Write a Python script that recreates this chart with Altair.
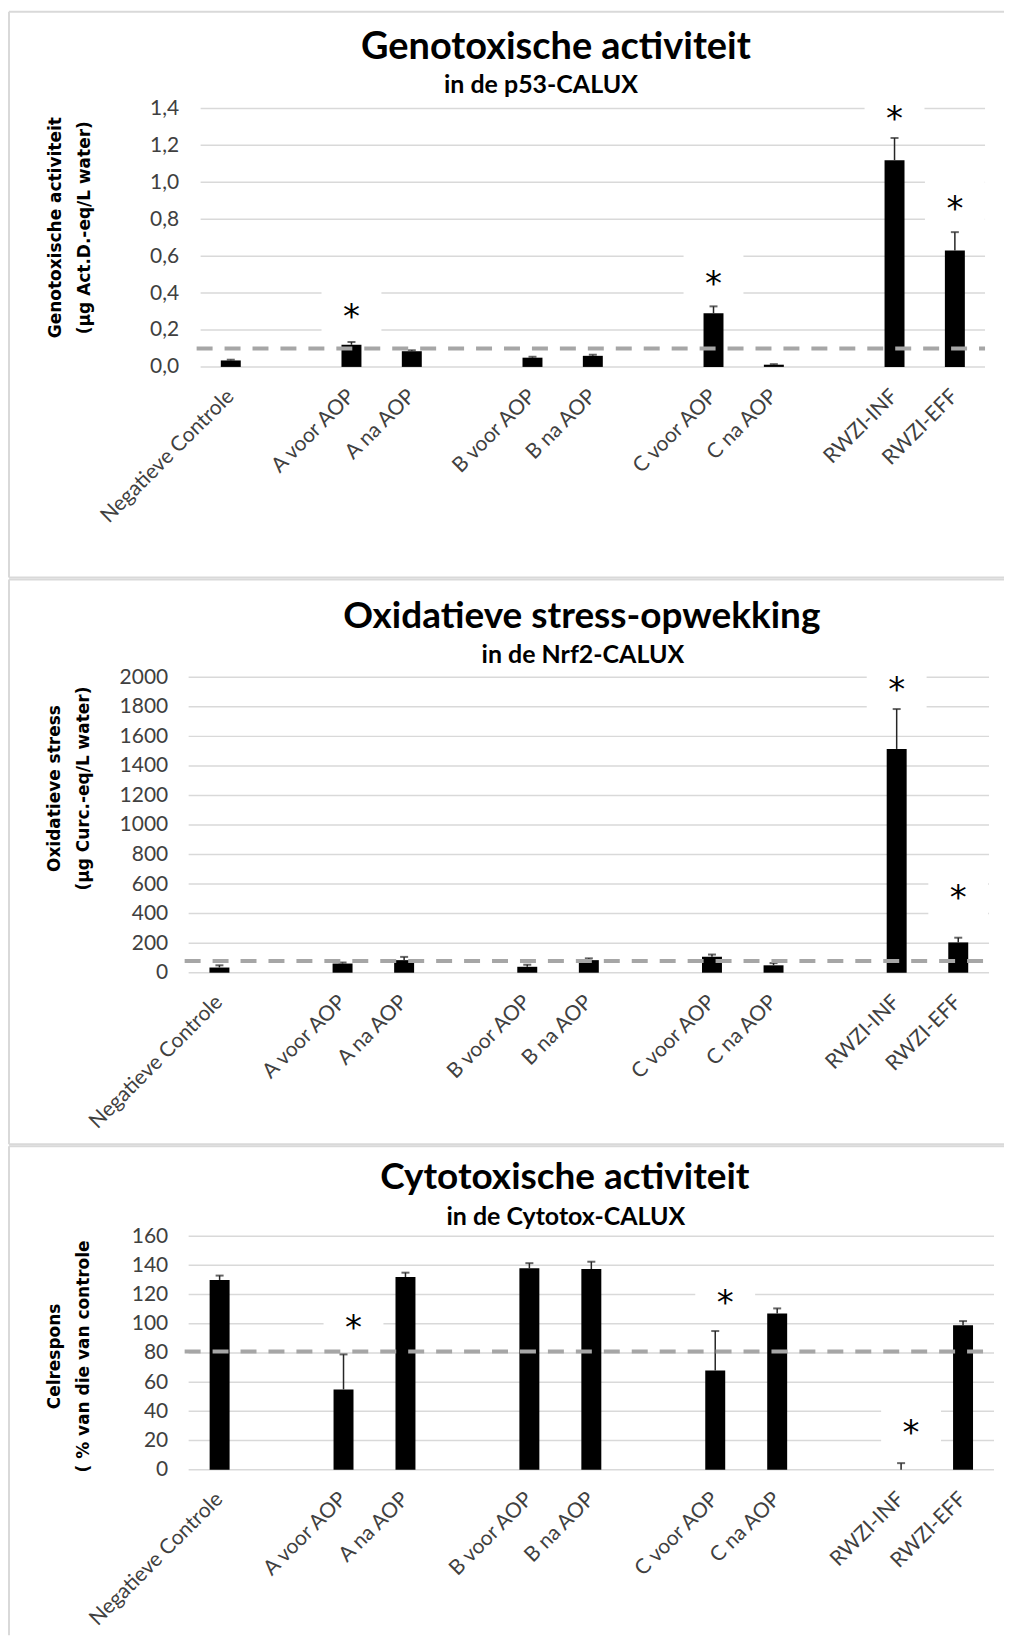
import altair as alt
import pandas as pd

# ---------------- data ----------------
categories = ["Negatieve Controle", "A voor AOP", "A na AOP", "B voor AOP", "B na AOP",
              "C voor AOP", "C na AOP", "RWZI-INF", "RWZI-EFF"]
# x-axis slots: blank slots separate the groups
slots = ["Negatieve Controle", " ", "A voor AOP", "A na AOP", "  ", "B voor AOP", "B na AOP",
         "   ", "C voor AOP", "C na AOP", "    ", "RWZI-INF", "RWZI-EFF"]

geno_values = [0.035, 0.12, 0.085, 0.05, 0.06, 0.29, 0.012, 1.12, 0.63]
geno_errors = [0.004, 0.015, 0.005, 0.005, 0.006, 0.038, 0.003, 0.12, 0.10]
geno_star_cats = ["A voor AOP", "C voor AOP", "RWZI-INF", "RWZI-EFF"]
geno_star_y = [0.30, 0.48, 1.375, 0.89]
geno_threshold = [0.1]
geno_ticks = [0.0, 0.2, 0.4, 0.6, 0.8, 1.0, 1.2, 1.4]

oxi_values = [35, 62, 85, 40, 85, 108, 50, 1515, 205]
oxi_errors = [15, 7, 22, 14, 12, 15, 15, 270, 32]
oxi_star_cats = ["RWZI-INF", "RWZI-EFF"]
oxi_star_y = [1954, 547]
oxi_threshold = [80]
oxi_ticks = [0, 200, 400, 600, 800, 1000, 1200, 1400, 1600, 1800, 2000]

cyto_values = [130, 55, 132, 138, 137.5, 68, 107, 0, 99]
cyto_errors = [3, 24, 3, 3.5, 5, 27, 3.5, 4.5, 2.8]
cyto_star_cats = ["A voor AOP", "C voor AOP", "RWZI-INF"]
cyto_star_y = [101, 118, 29]
cyto_threshold = [81]
cyto_ticks = [0, 20, 40, 60, 80, 100, 120, 140, 160]

FONT = "Lato, Open Sans, sans-serif"
GRID = "#d9d9d9"
FRAME = "#d9d9d9"
ONE = alt.Data(values=[{}])


def frame_lines(left, right, top, bottom, bottom_line):
    layers = []
    segs = [(left, right, top, top), (left, left, top, bottom)]
    if bottom_line:
        segs.append((left, right, bottom, bottom))
    for x1, x2, y1, y2 in segs:
        layers.append(
            alt.Chart(ONE).mark_rule(color=FRAME, strokeWidth=2).encode(
                x=alt.value(x1), x2=alt.value(x2), y=alt.value(y1), y2=alt.value(y2)
            )
        )
    return layers


def text_layer(txt, size, cx, by):
    return alt.Chart(ONE).mark_text(
        text=txt, font=FONT, fontSize=size, fontWeight="bold", color="black",
        align="center", baseline="alphabetic"
    ).encode(x=alt.value(cx), y=alt.value(by))


def panel(title, subtitle, ytitle, values, errors, star_cats, star_y, thr, ticks,
          comma, x0, width, height, frame, bottom_line, title_pos, sub_pos,
          label_pad, ytitle_x, ytitle_y, star_dx, title_size):
    df = pd.DataFrame({
        "cat": categories,
        "value": values,
        "top": [v + e for v, e in zip(values, errors)],
    })
    stars = pd.DataFrame({"cat": star_cats, "y": star_y})
    thr_df = pd.DataFrame({"thr": thr})
    tick_df = pd.DataFrame({"tick": ticks})

    xaxis = alt.Axis(title=None, labelAngle=315, labelAlign="right", labelBaseline="middle",
                     labelFont=FONT, labelFontSize=21, labelColor="#404040", labelPadding=26,
                     ticks=False, tickSize=0, domain=False, grid=False, labelLimit=400)
    xscale = alt.Scale(domain=slots, range=[x0, width], paddingInner=0, paddingOuter=0)

    def X():
        return alt.X("cat:N", scale=xscale, sort=slots, axis=xaxis)

    yaxis_kwargs = dict(
        title=ytitle, values=ticks, grid=False,
        domain=False, ticks=False, labelFont=FONT, labelFontSize=21, labelColor="#404040",
        labelPadding=label_pad, titleFont="DejaVu Sans", titleFontWeight="bold",
        titleFontSize=17, titleColor="black", titleAngle=270, titleAlign="center",
        titleBaseline="middle", titleLineHeight=29, titleX=ytitle_x, titleY=ytitle_y,
    )
    if comma:
        yaxis_kwargs["labelExpr"] = "replace(format(datum.value, '.1f'), '.', ',')"
    else:
        yaxis_kwargs["format"] = "d"
    yaxis = alt.Axis(**yaxis_kwargs)
    yscale = alt.Scale(domain=[ticks[0], ticks[-1]], nice=False, zero=True)

    def Y(field):
        return alt.Y(f"{field}:Q", scale=yscale, axis=yaxis)

    grid = alt.Chart(tick_df).mark_rule(color=GRID, strokeWidth=1.5).encode(
        y=Y("tick"), x=alt.value(x0), x2=alt.value(width))

    boxes = alt.Chart(stars).mark_point(
        shape="M-1,-0.8H1V0.8H-1Z", filled=True, color="white", opacity=1,
        size=3600, strokeWidth=0, xOffset=star_dx
    ).encode(x=X(), y=Y("y"))

    bars = alt.Chart(df).mark_bar(size=20, color="black").encode(x=X(), y=Y("value"))
    err = alt.Chart(df).mark_rule(color="#262626", strokeWidth=1.5).encode(
        x=X(), y=Y("value"), y2="top:Q")
    caps = alt.Chart(df).mark_tick(color="#262626", thickness=2, size=8).encode(
        x=X(), y=Y("top"))
    dashed = alt.Chart(thr_df).mark_rule(
        color="#a6a6a6", strokeWidth=4, strokeDash=[16, 12]).encode(
        y=Y("thr"), x=alt.value(x0 - 4), x2=alt.value(width))
    star_text = alt.Chart(stars).mark_text(
        text="*", font="DejaVu Sans", fontSize=34, color="black",
        baseline="alphabetic", align="center", dx=star_dx, dy=17
    ).encode(x=X(), y=Y("y"))

    titles = [text_layer(title, title_size, *title_pos), text_layer(subtitle, 25, *sub_pos)]

    layers = (frame_lines(*frame, bottom_line) + titles +
              [grid, boxes, bars, err, caps, dashed, star_text])
    return alt.layer(*layers).properties(width=width, height=height)


# all panels share the same plot origin (x = 188 px on the page)
p1 = panel("Genotoxische activiteit", "in de p53-CALUX",
           ["Genotoxische activiteit", "(µg Act.D.-eq/L water)"],
           geno_values, geno_errors, geno_star_cats, geno_star_y, geno_threshold,
           geno_ticks, True, 12, 798, 259, (-180, 817, -97, 470), True,
           (368, -50), (353, -15), 10, -133, 119, 0, 38)

p2 = panel("Oxidatieve stress-opwekking", "in de Nrf2-CALUX",
           ["Oxidatieve stress", "(µg Curc.-eq/L water)"],
           oxi_values, oxi_errors, oxi_star_cats, oxi_star_y, oxi_threshold,
           oxi_ticks, False, 0, 802, 296, (-180, 817, -98, 468), True,
           (394, -49), (395, -14), 21, -134, 111, 0, 37)

p3 = panel("Cytotoxische activiteit", "in de Cytotox-CALUX",
           ["Celrespons", "( % van die van controle"],
           cyto_values, cyto_errors, cyto_star_cats, cyto_star_y, cyto_threshold,
           cyto_ticks, False, 0, 807, 234, (-180, 817, -90, 400), False,
           (377, -47), (378, -11), 21, -134, 120, 10, 37)

chart = alt.concat(p1, p2, p3, columns=1, spacing=0, bounds="full").properties(
    padding={"left": 0, "top": 1, "right": 0, "bottom": 0},
    background="white",
).configure_view(stroke=None)

chart.save("out.html", embed_options={"renderer": "svg", "actions": False})
